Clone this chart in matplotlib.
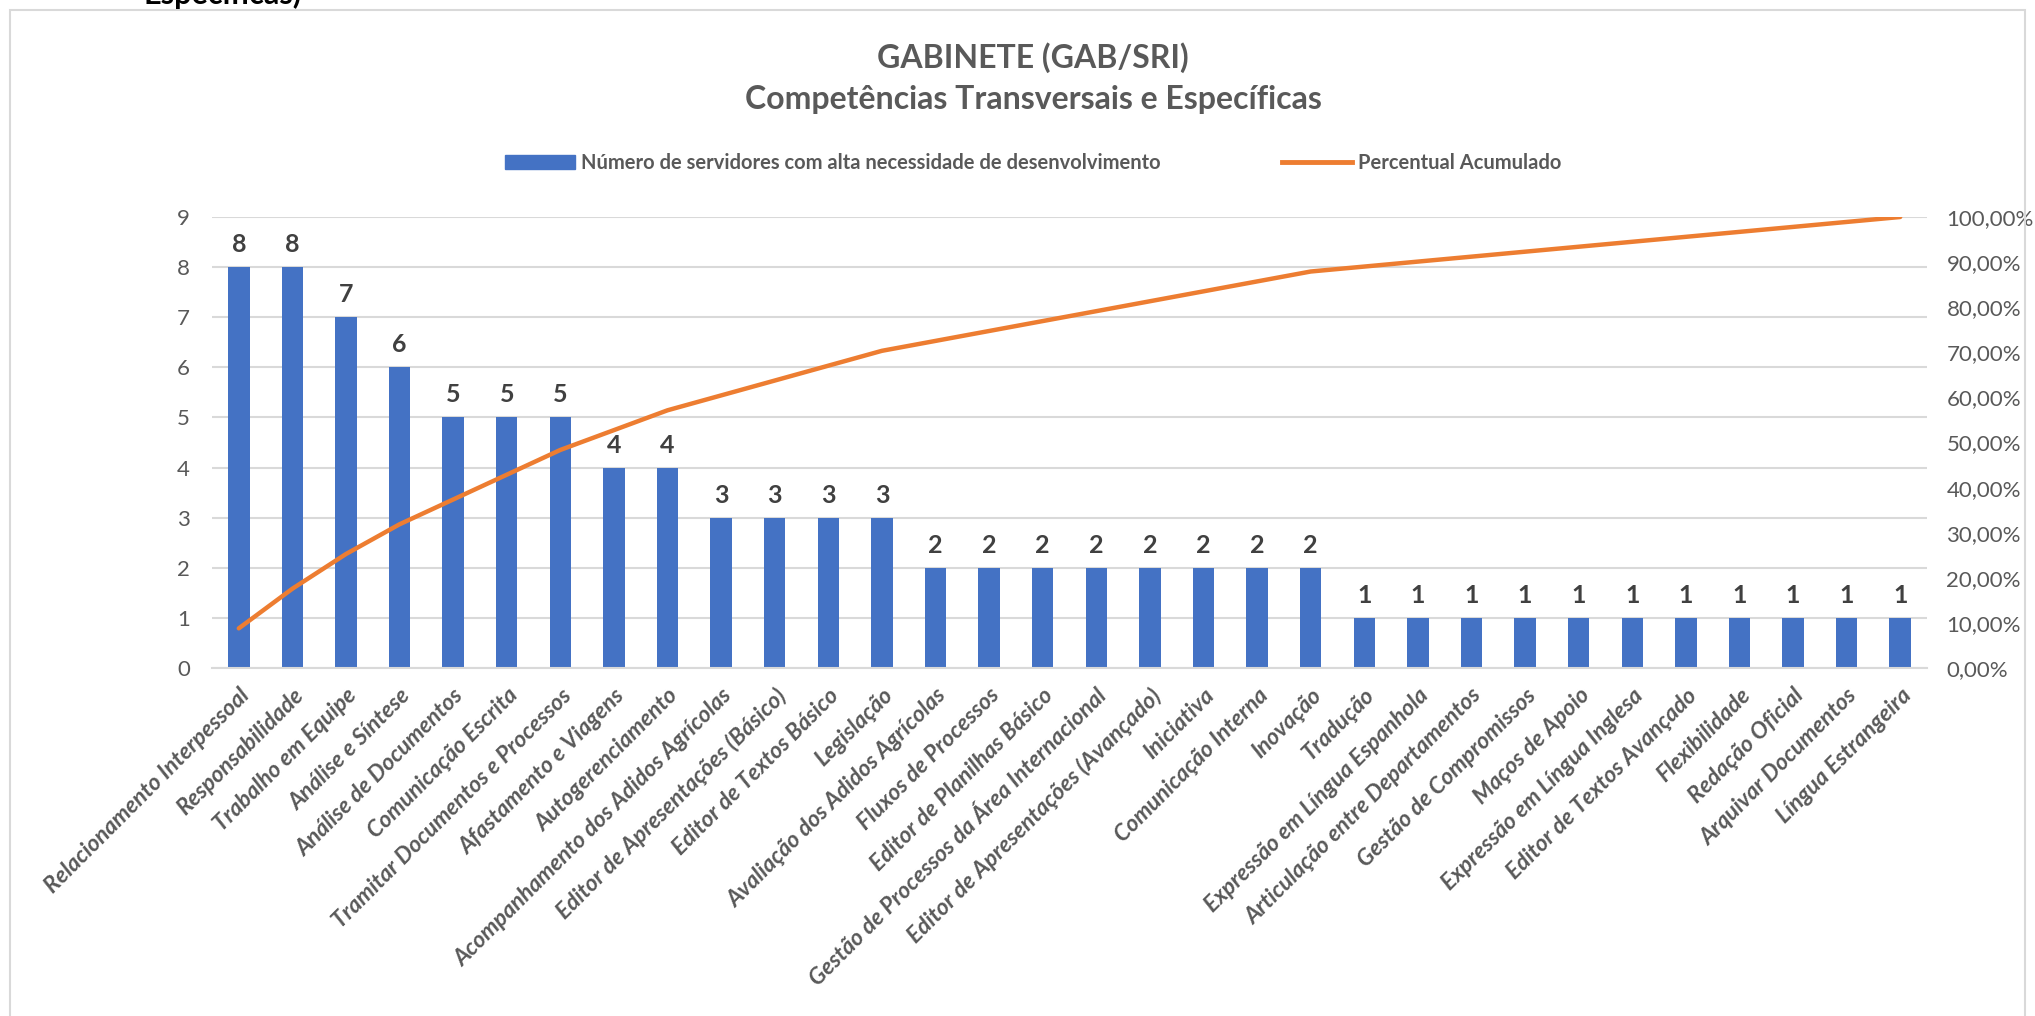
import matplotlib.pyplot as plt
import matplotlib.patches as mpatches
from matplotlib.ticker import FuncFormatter, MultipleLocator
from matplotlib.lines import Line2D
import numpy as np

plt.rcParams['font.family'] = ['Lato', 'DejaVu Sans']

categories = [
    "Relacionamento Interpessoal", "Responsabilidade", "Trabalho em Equipe",
    "Análise e Síntese", "Análise de Documentos", "Comunicação Escrita",
    "Tramitar Documentos e Processos", "Afastamento e Viagens", "Autogerenciamento",
    "Acompanhamento dos Adidos Agrícolas", "Editor de Apresentações (Básico)",
    "Editor de Textos Básico", "Legislação", "Avaliação dos Adidos Agrícolas",
    "Fluxos de Processos", "Editor de Planilhas Básico",
    "Gestão de Processos da Área Internacional", "Editor de Apresentações (Avançado)",
    "Iniciativa", "Comunicação Interna", "Inovação", "Tradução",
    "Expressão em Língua Espanhola", "Articulação entre Departamentos",
    "Gestão de Compromissos", "Maços de Apoio", "Expressão em Língua Inglesa",
    "Editor de Textos Avançado", "Flexibilidade", "Redação Oficial",
    "Arquivar Documentos", "Língua Estrangeira",
]
counts = [8, 8, 7, 6, 5, 5, 5, 4, 4, 3, 3, 3, 3, 2, 2, 2, 2, 2, 2, 2, 2,
          1, 1, 1, 1, 1, 1, 1, 1, 1, 1, 1]

# Pareto: cumulative share of the bar counts
cum_pct = np.cumsum(counts) / np.sum(counts)

title = "GABINETE (GAB/SRI)\nCompetências Transversais e Específicas"
bar_label = "Número de servidores com alta necessidade de desenvolvimento"
line_label = "Percentual Acumulado"

blue = "#4472C4"
orange = "#ED7D31"
grid_gray = "#D9D9D9"
text_gray = "#595959"

W, H = 2035, 1016
fig = plt.figure(figsize=(W / 100, H / 100), dpi=100)

# chart frame
fig.patches.append(mpatches.Rectangle((10 / W, -0.05), (2025 - 10) / W, 1 - 10 / H + 0.05,
                                      transform=fig.transFigure, fill=False,
                                      edgecolor=grid_gray, lw=1.5))
# cut-off text above the chart (only its lower edge shows)
fig.text(143 / W, 1 - 4 / H, "Específicas)", fontsize=22, fontweight='bold', va='baseline')

ax = fig.add_axes([212 / W, 1 - 668 / H, (1927 - 212) / W, (668 - 217) / H])
x = np.arange(len(categories))
ax.bar(x, counts, width=0.4, color=blue, zorder=2)
ax.set_xlim(-0.5, len(categories) - 0.5)
ax.set_ylim(0, 9)
ax.yaxis.set_major_locator(MultipleLocator(1))
ax.grid(axis='y', color=grid_gray, lw=1.5, zorder=0)
for s in ['top', 'right', 'left']:
    ax.spines[s].set_visible(False)
ax.spines['bottom'].set_color(grid_gray)
ax.spines['bottom'].set_linewidth(1.5)
ax.tick_params(axis='y', length=0, labelsize=16, labelcolor=text_gray, pad=16)
ax.set_xticks(x)
ax.set_xticklabels(categories, rotation=45, ha='right', rotation_mode='anchor',
                   fontsize=16.5, fontweight='bold', fontstyle='italic', color=text_gray)
ax.tick_params(axis='x', length=0, pad=12)

for xi, v in zip(x, counts):
    ax.text(xi, v + 0.22, str(v), ha='center', va='bottom', fontsize=18,
            fontweight='bold', color="#404040")

ax2 = ax.twinx()
ax2.plot(x, cum_pct, color=orange, lw=3.2, solid_capstyle='round', zorder=3)
ax2.set_ylim(0, 1)
ax2.yaxis.set_major_locator(MultipleLocator(0.1))
ax2.yaxis.set_major_formatter(FuncFormatter(lambda v, p: f"{v * 100:.2f}%".replace('.', ',')))
for s in ax2.spines.values():
    s.set_visible(False)
ax2.tick_params(axis='y', length=0, labelsize=16, labelcolor=text_gray, pad=14)

fig.text(1033 / W, 1 - 78 / H, title, ha='center', va='center', fontsize=23,
         fontweight='bold', color=text_gray, linespacing=1.5)

handles = [mpatches.Patch(color=blue, label=bar_label),
           Line2D([0], [0], color=orange, lw=3.5, label=line_label)]
fig.legend(handles=handles, loc='center', bbox_to_anchor=(1033 / W, 1 - 163 / H),
           ncol=2, frameon=False, prop={'weight': 'bold', 'size': 14.5},
           labelcolor=text_gray, handlelength=3.5, handletextpad=0.3, columnspacing=6)

fig.savefig("out.png", dpi=100)
